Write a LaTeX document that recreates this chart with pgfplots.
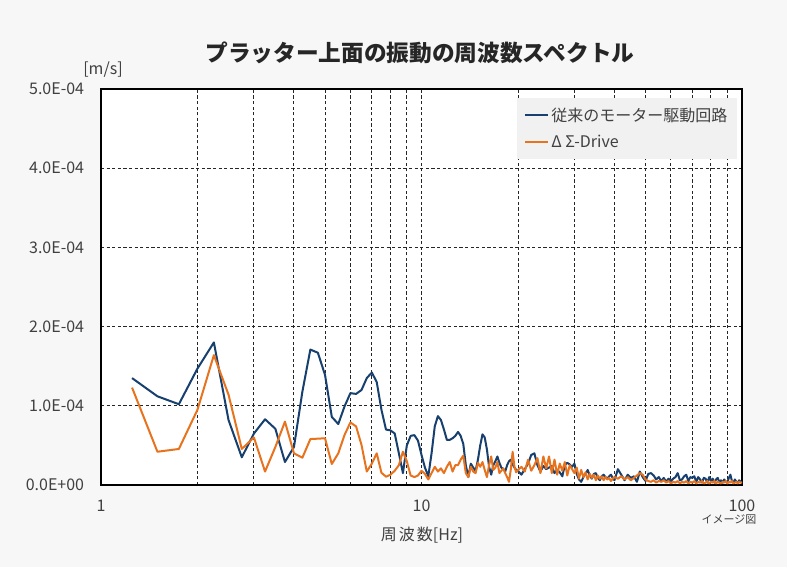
\documentclass[border=0pt]{standalone}
\usepackage{fontspec}
\setmainfont{Noto Sans CJK JP}
\usepackage{pgfplots}
\pgfplotsset{compat=1.18}
\usepackage{pgfplotstable}
\definecolor{bgc}{HTML}{F7F7F7}
\definecolor{legc}{HTML}{F1F1F1}
\definecolor{txt}{HTML}{404040}
\definecolor{ttl}{HTML}{262626}
\definecolor{sblue}{HTML}{17406F}
\definecolor{sorange}{HTML}{E8731E}

\pgfplotstableread{
f v
1.25 1.35
1.5 1.12
1.75 1.02
2 1.47
2.25 1.80
2.5 0.82
2.75 0.35
3 0.65
3.25 0.83
3.5 0.71
3.75 0.29
4 0.48
4.25 1.18
4.5 1.71
4.75 1.67
5 1.39
5.25 0.86
5.5 0.77
5.75 0.99
6 1.16
6.25 1.15
6.5 1.20
6.75 1.35
7 1.42
7.25 1.30
7.5 0.95
7.75 0.70
8 0.69
8.25 0.65
8.5 0.40
8.75 0.15
9 0.50
9.25 0.62
9.5 0.63
9.75 0.56
10 0.38
10.25 0.22
10.5 0.11
10.75 0.40
11 0.74
11.25 0.87
11.5 0.82
11.75 0.70
12 0.57
12.25 0.57
12.5 0.59
12.75 0.62
13 0.67
13.25 0.62
13.5 0.52
13.75 0.25
14 0.10
14.25 0.27
14.5 0.22
14.75 0.18
15 0.32
15.25 0.50
15.5 0.64
15.75 0.60
16 0.45
16.25 0.23
16.5 0.13
16.75 0.25
17 0.30
17.25 0.36
17.5 0.28
17.75 0.22
18 0.20
18.25 0.17
18.5 0.25
18.75 0.30
19 0.32
19.25 0.26
19.5 0.22
19.75 0.19
20 0.18
20.5 0.13
21 0.20
21.5 0.27
22 0.38
22.5 0.40
23 0.25
23.5 0.17
24 0.24
24.5 0.20
25 0.22
25.5 0.24
26 0.15
26.5 0.19
27 0.16
27.5 0.11
28 0.25
28.5 0.28
29 0.26
29.5 0.23
30 0.27
30.5 0.14
31 0.07
31.5 0.04
32 0.10
32.5 0.14
33 0.19
33.5 0.12
34 0.08
34.5 0.14
35 0.15
35.5 0.09
36 0.06
36.5 0.11
37 0.13
37.5 0.10
38 0.08
38.5 0.11
39 0.13
39.5 0.09
40 0.06
41 0.20
42 0.13
43 0.06
44 0.13
45 0.09
46 0.11
47 0.04
48 0.17
49 0.10
50 0.05
51 0.14
52 0.15
53 0.12
54 0.07
55 0.10
56 0.05
57 0.09
58 0.04
59 0.08
60 0.05
61 0.08
62 0.10
63 0.15
64 0.06
65 0.07
66 0.11
67 0.13
68 0.05
69 0.10
70 0.09
71 0.11
72 0.04
73 0.10
74 0.07
75 0.03
76 0.09
77 0.08
78 0.03
79 0.10
80 0.05
81 0.08
82 0.03
83 0.07
84 0.09
85 0.03
86 0.06
87 0.03
88 0.07
89 0.04
90 0.03
91 0.09
92 0.13
93 0.05
94 0.03
95 0.07
96 0.04
97 0.03
98 0.06
99 0.04
100 0.04
}\blueTable

\pgfplotstableread{
f v
1.25 1.23
1.5 0.42
1.75 0.455
2 0.95
2.25 1.64
2.5 1.14
2.75 0.455
3 0.60
3.25 0.17
3.5 0.48
3.75 0.80
4 0.40
4.25 0.345
4.5 0.58
4.75 0.585
5 0.59
5.25 0.265
5.5 0.40
5.75 0.63
6 0.79
6.25 0.74
6.5 0.505
6.75 0.17
7 0.27
7.25 0.40
7.5 0.155
7.75 0.105
8 0.13
8.25 0.18
8.5 0.25
8.75 0.42
9 0.30
9.25 0.12
9.5 0.10
9.75 0.12
10 0.18
10.25 0.14
10.5 0.07
10.75 0.15
11 0.23
11.25 0.17
11.5 0.21
11.75 0.15
12 0.23
12.25 0.29
12.5 0.17
12.75 0.25
13 0.25
13.25 0.32
13.5 0.37
13.75 0.15
14 0.10
14.25 0.23
14.5 0.17
14.75 0.15
15 0.28
15.25 0.23
15.5 0.29
15.75 0.19
16 0.10
16.25 0.25
16.5 0.36
16.75 0.19
17 0.22
17.25 0.29
17.5 0.15
17.75 0.18
18 0.21
18.25 0.15
18.5 0.10
18.75 0.04
19 0.20
19.25 0.42
19.5 0.23
19.75 0.16
20 0.19
20.5 0.23
21 0.17
21.5 0.32
22 0.18
22.5 0.25
23 0.34
23.5 0.15
24 0.36
24.5 0.21
25 0.36
25.5 0.15
26 0.32
26.5 0.13
27 0.27
27.5 0.18
28 0.29
28.5 0.12
29 0.25
29.5 0.20
30 0.15
30.5 0.22
31 0.08
31.5 0.19
32 0.10
32.5 0.16
33 0.07
33.5 0.14
34 0.09
34.5 0.13
35 0.06
35.5 0.12
36 0.08
36.5 0.11
37 0.06
37.5 0.10
38 0.07
38.5 0.09
39 0.05
39.5 0.08
40 0.10
41 0.08
42 0.11
43 0.07
44 0.10
45 0.06
46 0.09
47 0.12
48 0.15
49 0.13
50 0.07
51 0.05
52 0.04
53 0.06
54 0.03
55 0.05
56 0.04
57 0.06
58 0.03
59 0.05
60 0.02
61 0.04
62 0.03
63 0.05
64 0.02
65 0.04
66 0.03
67 0.05
68 0.02
69 0.04
70 0.03
71 0.05
72 0.02
73 0.04
74 0.03
75 0.05
76 0.02
77 0.03
78 0.05
79 0.02
80 0.04
81 0.03
82 0.05
83 0.02
84 0.04
85 0.03
86 0.02
87 0.04
88 0.03
89 0.05
90 0.02
91 0.04
92 0.03
93 0.05
94 0.02
95 0.03
96 0.04
97 0.02
98 0.04
99 0.03
100 0.03
}\orangeTable

\begin{document}
\begin{tikzpicture}
\path[use as bounding box, fill=bgc] (-75.75pt,-61.5pt) rectangle (514.5pt,363.75pt);
\begin{axis}[
  at={(0pt,0pt)}, anchor=south west,
  scale only axis, width=480.75pt, height=297pt,
  xmode=log, xmin=1, xmax=100, ymin=0, ymax=5,
  log basis x=10,
  xtick={1,10,100}, xticklabels={1,10,100},
  minor xtick={2,3,4,5,6,7,8,9,20,30,40,50,60,70,80,90},
  ytick={0,1,2,3,4,5},
  yticklabels={0.0E+00,1.0E-04,2.0E-04,3.0E-04,4.0E-04,5.0E-04},
  major tick length=0pt, minor tick length=0pt,
  xmajorgrids, xminorgrids, ymajorgrids,
  grid style={black!85, line width=0.7pt, dash pattern=on 2.4pt off 1.8pt},
  minor grid style={black!85, line width=0.7pt, dash pattern=on 2.4pt off 1.8pt},
  axis line style={black, line width=1.1pt},
  axis background/.style={fill=white},
  tick label style={font=\fontsize{12}{14}\selectfont, text=txt},
  yticklabel style={anchor=east, inner sep=0pt, xshift=-12.5pt},
  xticklabel style={anchor=north, inner sep=0pt, yshift=-11pt},
  legend style={at={(rel axis cs:0.992,0.977)}, anchor=north east,
    draw=none, fill=legc, font=\fontsize{12}{15}\selectfont, text=txt,
    inner xsep=5pt, inner ysep=5pt, row sep=5pt},
  legend cell align=left,
  legend image code/.code={\draw[#1] (0pt,0pt) -- (17pt,0pt);},
]
\addplot[sblue, line width=1.5pt, line join=round] table[x=f,y=v] {\blueTable};
\addlegendentry{従来のモーター駆動回路}
\addplot[sorange, line width=1.5pt, line join=round] table[x=f,y=v] {\orangeTable};
\addlegendentry{Δ Σ-Drive}
\end{axis}
\node[font=\bfseries\fontsize{17}{19}\selectfont, text=ttl] at (239.25pt,324pt) {プラッター上面の振動の周波数スペクトル};
\node[font=\fontsize{12}{14}\selectfont, text=txt] at (1.5pt,311.25pt) {[m/s]};
\node[font=\fontsize{12}{14}\selectfont, text=txt] at (240.75pt,-37.5pt) {周\hspace{1.5pt}波\hspace{1.5pt}数[Hz]};
\node[font=\fontsize{8.25}{10}\selectfont, text=txt] at (471pt,-26.25pt) {イメージ図};
\end{tikzpicture}
\end{document}
